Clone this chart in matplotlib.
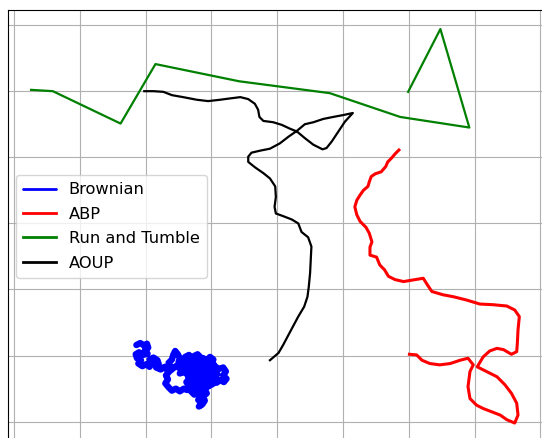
import numpy as np
import matplotlib
matplotlib.use("Agg")
import matplotlib.pyplot as plt

# -----------------------------
# Trajectories (grid step = 10)
# -----------------------------
brownian_x = [18.6, 19.2, 19.8, 20.2, 20.4, 19.9, 20.3, 19.6, 19.0, 18.5, 18.7, 19.3,
              18.9, 19.5, 20.1, 20.6, 21.0, 20.6, 21.2, 21.8, 22.0, 21.6, 22.3, 22.9,
              23.3, 23.8, 23.5, 24.0, 24.2, 24.5, 24.9, 25.2, 25.0, 25.6, 25.2, 24.6,
              23.6, 23.1, 23.4, 23.0, 23.5, 24.0, 24.6, 25.2, 25.8, 26.3, 26.6, 26.2,
              26.7, 26.3, 25.8, 25.2, 25.6, 26.2, 25.7, 26.3, 26.8, 27.3, 27.9, 28.4,
              28.0, 28.7, 29.3, 29.8, 30.3, 30.0, 30.6, 31.2, 31.8, 32.2, 31.8, 32.3,
              31.9, 31.3, 30.8, 30.4, 30.9, 30.3, 29.7, 29.2, 28.6, 28.1, 27.5, 27.0,
              26.6, 27.1, 27.6, 28.2, 28.7, 29.3, 29.8, 30.2, 29.6, 29.1, 28.5, 28.0,
              27.4, 27.0, 27.3, 26.9, 27.4, 28.0, 28.4, 28.0, 28.5, 28.1, 28.6, 29.0,
              28.7, 29.3, 28.9, 29.4, 29.0, 28.8, 28.3, 27.6, 27.2, 27.8, 28.4, 29.0,
              29.6, 30.0, 29.5, 29.9, 29.4, 28.9, 28.3, 27.7, 27.2, 26.8, 27.4, 28.0,
              28.6, 29.2, 29.7, 29.1, 28.5, 27.9, 27.3, 26.7, 26.1, 26.5, 27.1, 27.7,
              28.3, 28.9, 29.5, 30.1, 29.6, 29.0, 28.4, 27.8, 27.2, 26.6, 26.0, 26.6,
              27.0, 27.6, 28.2, 28.8, 29.3, 29.9, 30.4, 29.9, 29.3, 28.7, 28.1, 27.5,
              26.9, 26.5, 27.0, 27.6, 28.1, 28.7, 29.3, 29.9, 30.5, 30.0, 29.4, 28.8,
              28.2, 27.7]
brownian_y = [11.6, 11.9, 11.5, 11.8, 11.2, 10.8, 10.3, 10.1, 10.5, 10.2, 9.6, 9.3,
              8.8, 8.4, 8.7, 8.3, 8.9, 9.4, 9.7, 9.3, 8.7, 8.2, 7.9, 8.3,
              7.8, 8.3, 8.9, 9.4, 10.1, 10.7, 10.2, 9.6, 9.0, 8.6, 8.1, 8.4,
              7.6, 7.0, 6.4, 5.8, 5.2, 4.7, 5.0, 4.6, 5.0, 4.8, 5.4, 6.0,
              6.5, 7.2, 7.5, 7.3, 7.9, 8.4, 9.0, 9.6, 9.2, 9.9, 10.2, 9.7,
              9.1, 8.7, 9.3, 9.8, 9.4, 8.8, 8.3, 8.0, 8.2, 7.6, 7.0, 6.5,
              6.0, 6.3, 5.9, 6.6, 7.2, 7.6, 7.2, 7.8, 7.4, 7.9, 7.5, 8.0,
              7.6, 7.0, 6.6, 6.9, 6.3, 6.7, 6.2, 5.7, 5.4, 5.9, 5.6, 6.0,
              5.8, 6.2, 5.2, 4.6, 4.1, 4.4, 3.9, 3.3, 2.8, 2.3, 2.6, 3.2,
              3.8, 4.3, 4.9, 5.3, 6.0, 8.2, 8.6, 8.8, 8.3, 8.1, 7.9, 8.5,
              8.1, 7.0, 6.5, 5.9, 5.3, 5.0, 4.7, 5.1, 5.6, 6.4, 7.0, 7.4,
              7.1, 7.5, 6.9, 6.4, 6.1, 6.5, 6.9, 8.7, 9.1, 9.4, 9.0, 9.5,
              9.1, 8.6, 8.9, 8.5, 8.1, 7.8, 8.2, 7.9, 8.4, 8.8, 9.8, 10.1,
              9.4, 9.6, 9.2, 9.6, 8.9, 9.2, 8.6, 8.1, 7.6, 7.9, 7.3, 7.1,
              7.4, 6.8, 6.3, 6.2, 6.5, 6.9, 7.2, 7.5, 7.0, 6.5, 6.1, 5.6,
              5.2, 5.4]

abp_x = [58.5, 57.9, 57.4, 56.8, 56.5, 55.8, 54.9, 54.3, 54.0, 53.8, 53.1, 52.6,
         52.1, 51.8, 52.1, 52.6, 53.5, 54.0, 54.4, 54.1, 54.1, 55.1, 55.6, 56.3,
         56.9, 57.9, 59.2, 60.4, 62.2, 62.7, 63.5, 65.2, 66.8, 68.8, 70.8, 72.8,
         74.9, 76.1, 76.8, 76.6, 76.5, 76.4, 75.6, 74.4, 73.4, 72.3, 71.3, 70.4,
         71.8, 73.4, 74.6, 75.6, 76.4, 76.6, 76.1, 74.9, 73.9, 72.6, 71.3, 70.3,
         69.3, 69.0, 69.3, 69.8, 69.0, 67.8, 66.3, 64.7, 63.2, 62.0, 61.2, 60.1]
abp_y = [41.1, 40.5, 39.9, 39.3, 38.6, 37.8, 37.5, 37.1, 36.3, 35.6, 35.0, 34.3,
         33.5, 32.5, 31.3, 30.3, 29.4, 28.5, 27.2, 26.4, 25.2, 24.9, 23.7, 23.0,
         22.0, 21.5, 21.2, 21.4, 21.7, 20.9, 19.7, 19.2, 18.9, 18.4, 17.8, 17.7,
         17.5, 16.9, 15.9, 13.9, 11.9, 10.6, 10.2, 10.9, 11.1, 10.7, 9.8, 8.3,
         7.6, 6.8, 5.6, 4.3, 2.8, 1.0, -0.2, 0.3, 1.0, 1.5, 2.0, 2.5,
         3.5, 5.3, 7.6, 8.6, 9.6, 9.3, 8.8, 8.6, 8.8, 9.3, 10.1, 10.2]

rt_x = [2.6, 5.9, 16.2, 21.5, 34.2, 48.0, 58.7, 69.2, 64.8, 59.9]
rt_y = [50.2, 50.0, 45.1, 54.1, 51.5, 49.7, 46.1, 44.5, 59.4, 49.9]

aoup_x = [19.8, 21.2, 22.7, 24.0, 25.7, 27.8, 29.5, 31.3, 32.8, 34.4, 35.6, 36.6,
          37.1, 37.3, 37.9, 39.4, 40.7, 42.0, 43.0, 44.2, 45.5, 46.9, 47.5, 48.3,
          49.3, 50.3, 51.5, 50.1, 48.5, 47.0, 45.5, 44.2, 43.0, 41.7, 40.4, 38.9,
          37.4, 36.1, 35.6, 35.6, 36.6, 37.9, 38.9, 39.7, 39.8, 39.6, 39.8, 40.9,
          42.2, 43.2, 43.7, 44.7, 45.2, 45.1, 45.0, 44.8, 44.6, 44.1, 43.2, 42.5,
          41.7, 40.9, 40.2, 38.9]
aoup_y = [50.0, 50.0, 49.9, 49.4, 49.1, 48.7, 48.5, 48.7, 48.9, 49.1, 48.8, 48.1,
          47.2, 46.1, 45.5, 45.3, 44.9, 44.3, 43.9, 42.9, 41.9, 41.2, 41.4, 42.4,
          43.9, 45.4, 46.7, 46.4, 46.1, 45.8, 45.3, 45.0, 44.0, 43.1, 42.1, 41.3,
          41.0, 40.7, 40.1, 39.3, 38.5, 37.6, 36.8, 35.6, 34.0, 32.5, 31.5, 31.1,
          30.6, 30.0, 28.7, 27.9, 26.5, 24.5, 22.5, 20.4, 18.9, 17.4, 15.9, 14.6,
          13.1, 11.6, 10.4, 9.3]

# -----------------------------
# Figure
# -----------------------------
fig = plt.figure(figsize=(5.42, 4.38), dpi=100)
ax = fig.add_axes([8 / 542, -12 / 438, 552 / 542, 440 / 438])

ax.plot(brownian_x, brownian_y, color="blue", lw=4.6, solid_joinstyle="round",
        solid_capstyle="round", label="Brownian")
ax.plot(abp_x, abp_y, color="red", lw=2.2, label="ABP")
ax.plot(rt_x, rt_y, color="green", lw=1.6, label="Run and Tumble")
ax.plot(aoup_x, aoup_y, color="black", lw=1.6, label="AOUP")

ax.set_xlim(-0.91, 82.98)
ax.set_ylim(-4.28, 62.28)
ax.set_xticks(np.arange(0, 90, 10))
ax.set_yticks(np.arange(0, 70, 10))
ax.tick_params(length=0, labelleft=False, labelbottom=False)
ax.grid(True)

leg = ax.legend(loc="upper left", bbox_to_anchor=(0.0145, 0.625),
                borderaxespad=0, fontsize=11.7, labelspacing=0.58, borderpad=0.45)
for line in leg.get_lines():
    line.set_linewidth(2)

fig.savefig("out.png", dpi=100)
